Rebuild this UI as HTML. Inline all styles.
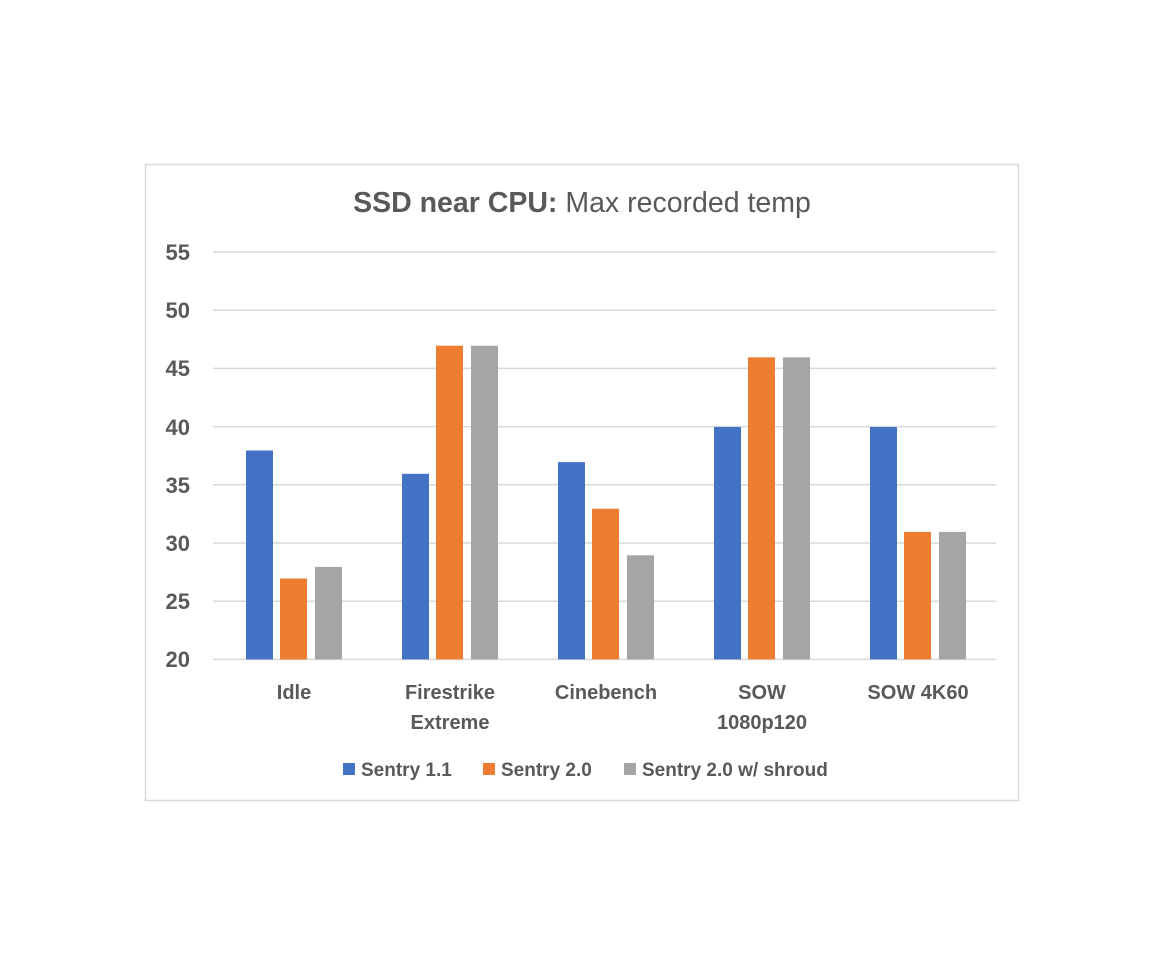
<!DOCTYPE html>
<html><head><meta charset="utf-8"><style>
body{margin:0;background:#fff;}
svg{display:block;font-family:"Liberation Sans",sans-serif;}
</style></head><body>
<svg width="1164" height="966" viewBox="0 0 1164 966">
<rect x="0" y="0" width="1164" height="966" fill="#fff"/>
<rect x="145.5" y="164.5" width="873" height="636" fill="#fff" stroke="#d9d9d9" stroke-width="1.5"/>
<text x="582" y="212" text-anchor="middle" font-size="28.5" fill="#595959"><tspan font-weight="bold">SSD near CPU:</tspan> Max recorded temp</text>
<g stroke="#d9d9d9" stroke-width="1.5">
<line x1="213" x2="996" y1="252" y2="252"/>
<line x1="213" x2="996" y1="310.2" y2="310.2"/>
<line x1="213" x2="996" y1="368.4" y2="368.4"/>
<line x1="213" x2="996" y1="426.6" y2="426.6"/>
<line x1="213" x2="996" y1="484.8" y2="484.8"/>
<line x1="213" x2="996" y1="543" y2="543"/>
<line x1="213" x2="996" y1="601.2" y2="601.2"/>
<line x1="213" x2="996" y1="659.4" y2="659.4"/>
</g>
<g font-size="22" font-weight="bold" fill="#595959" text-anchor="end">
<text x="190" y="260">55</text>
<text x="190" y="318">50</text>
<text x="190" y="376">45</text>
<text x="190" y="435">40</text>
<text x="190" y="493">35</text>
<text x="190" y="551">30</text>
<text x="190" y="609">25</text>
<text x="190" y="667">20</text>
</g>
<g>
<rect x="246" y="450.5" width="27" height="209" fill="#4472c4"/>
<rect x="280" y="578.5" width="27" height="81" fill="#ed7d31"/>
<rect x="315" y="566.9" width="27" height="92.5" fill="#a5a5a5"/>
<rect x="402" y="473.8" width="27" height="185.6" fill="#4472c4"/>
<rect x="436" y="345.7" width="27" height="313.7" fill="#ed7d31"/>
<rect x="471" y="345.7" width="27" height="313.7" fill="#a5a5a5"/>
<rect x="558" y="462.1" width="27" height="197.3" fill="#4472c4"/>
<rect x="592" y="508.7" width="27" height="150.7" fill="#ed7d31"/>
<rect x="627" y="555.3" width="27" height="104.1" fill="#a5a5a5"/>
<rect x="714" y="427" width="27" height="232.4" fill="#4472c4"/>
<rect x="748" y="357.3" width="27" height="302.1" fill="#ed7d31"/>
<rect x="783" y="357.3" width="27" height="302.1" fill="#a5a5a5"/>
<rect x="870" y="427" width="27" height="232.4" fill="#4472c4"/>
<rect x="904" y="531.9" width="27" height="127.5" fill="#ed7d31"/>
<rect x="939" y="531.9" width="27" height="127.5" fill="#a5a5a5"/>
</g>
<g font-size="20" font-weight="bold" fill="#595959" text-anchor="middle">
<text x="294" y="699">Idle</text>
<text x="450" y="699">Firestrike</text>
<text x="450" y="729">Extreme</text>
<text x="606" y="699">Cinebench</text>
<text x="762" y="699">SOW</text>
<text x="762" y="729">1080p120</text>
<text x="918" y="699">SOW 4K60</text>
</g>
<g font-size="19" font-weight="bold" fill="#595959">
<rect x="343" y="763" width="12" height="12" fill="#4472c4"/>
<text x="361" y="776">Sentry 1.1</text>
<rect x="483" y="763" width="12" height="12" fill="#ed7d31"/>
<text x="501" y="776">Sentry 2.0</text>
<rect x="624" y="763" width="12" height="12" fill="#a5a5a5"/>
<text x="642" y="776">Sentry 2.0 w/ shroud</text>
</g>
</svg>
</body></html>
